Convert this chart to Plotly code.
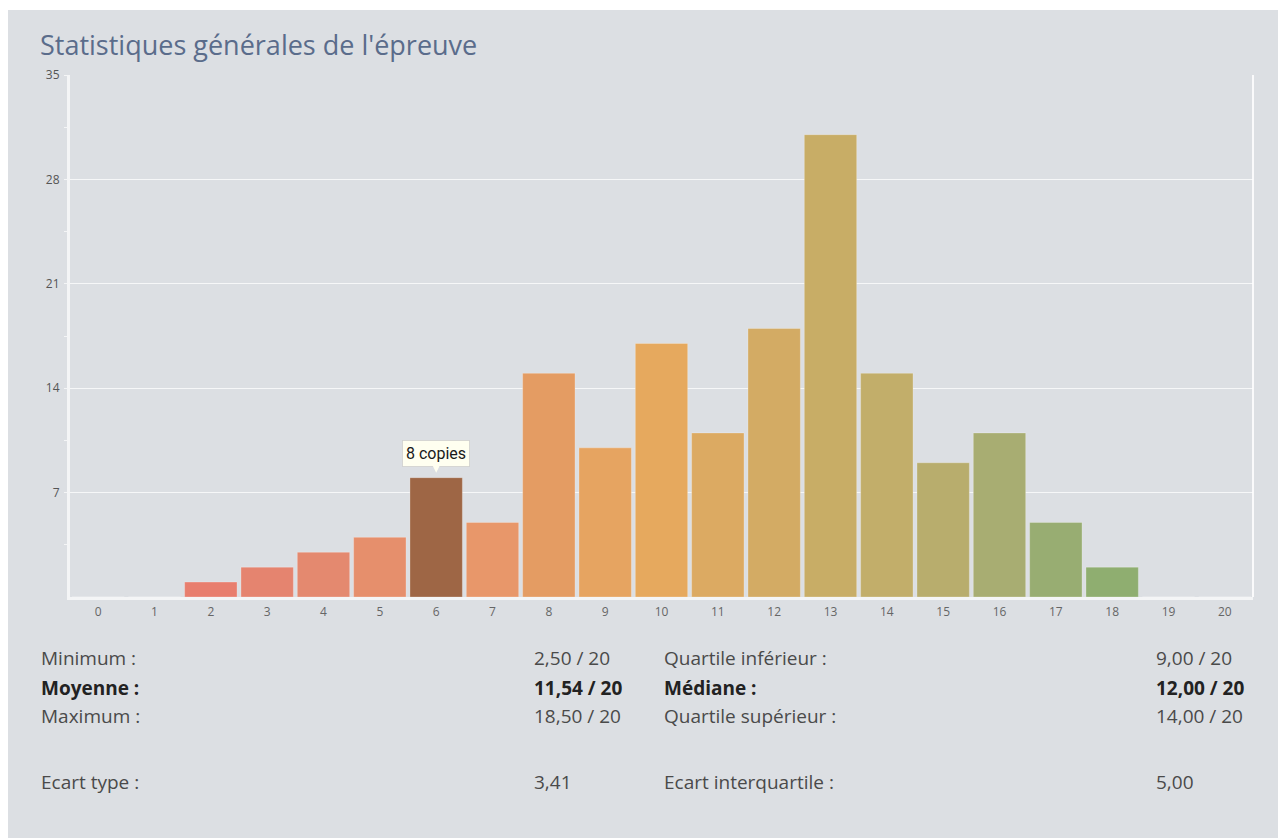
import plotly.graph_objects as go

# ---- data ----
notes = list(range(0, 21))
copies = [0, 0, 1, 2, 3, 4, 8, 5, 15, 10, 17, 11, 18, 31, 15, 9, 11, 5, 2, 0, 0]
y_ticks = [7, 14, 21, 28, 35]
highlight_note = 6

stats_left = [("Minimum :", "2,50 / 20", False),
              ("Moyenne :", "11,54 / 20", True),
              ("Maximum :", "18,50 / 20", False),
              ("Ecart type :", "3,41", False)]
stats_right = [("Quartile inférieur :", "9,00 / 20", False),
               ("Médiane :", "12,00 / 20", True),
               ("Quartile supérieur :", "14,00 / 20", False),
               ("Ecart interquartile :", "5,00", False)]
title = "Statistiques générales de l'épreuve"

# ---- styling ----
OFF = 8  # page body margin
W, H = 1286 - OFF, 838 - OFF
L, R, T, B = 70 - OFF, 1253 - OFF, 75 - OFF, 597 - OFF
BG = "#dcdfe3"
bar_colors = ["#e87b6d", "#e87b6d", "#e87e6e", "#e5846f", "#e4896f", "#e68f6c",
              "#9e6645", "#e8976a", "#e49c63", "#e6a461", "#e6a95e", "#dcaa62",
              "#d3ab64", "#c8ad66", "#c2ae6a", "#b8ad6d", "#a8ad72", "#98ad72",
              "#8fae70", "#8fae70", "#8fae70"]

def px2x(px):
    # px given in reference screenshot coordinates
    return (px - OFF - L) / (R - L)

def py2y(py):
    return (B - (py - OFF)) / (B - T)

fig = go.Figure()
fig.add_trace(go.Bar(
    x=notes, y=copies,
    marker=dict(color=bar_colors, line=dict(color="rgba(255,255,255,0.25)", width=1)),
    hoverinfo="skip",
))

annotations = []
annotations.append(dict(text=title, xref="paper", yref="paper", x=px2x(38), y=py2y(45),
                        xanchor="left", yanchor="middle", showarrow=False,
                        font=dict(family="Open Sans", size=27, color="#5a6c8b")))
rows_y = [658, 688, 716, 782]
for col_items, xl, xv in ((stats_left, 39, 532), (stats_right, 662, 1154)):
    for (lab, val, bold), yy in zip(col_items, rows_y):
        col = "#222222" if bold else "#4a4a4a"
        t1 = f"<b>{lab}</b>" if bold else lab
        t2 = f"<b>{val}</b>" if bold else val
        annotations.append(dict(text=t1, xref="paper", yref="paper", x=px2x(xl), y=py2y(yy),
                                xanchor="left", yanchor="middle", showarrow=False,
                                font=dict(family="Open Sans", size=19, color=col)))
        annotations.append(dict(text=t2, xref="paper", yref="paper", x=px2x(xv), y=py2y(yy),
                                xanchor="left", yanchor="middle", showarrow=False,
                                font=dict(family="Open Sans", size=19, color=col)))

# tooltip
hi_val = copies[notes.index(highlight_note)]
annotations.append(dict(text=f"{hi_val} copies", x=highlight_note, y=hi_val, xref="x", yref="y",
                        showarrow=True, ax=0, ay=-24, arrowhead=2, arrowsize=1,
                        arrowwidth=2, arrowcolor="#fffff0", standoff=5,
                        bgcolor="#fffff0", bordercolor="rgba(190,190,190,0.5)", borderwidth=1,
                        borderpad=3,
                        font=dict(family="Roboto", size=16, color="#1a1a1a")))

shapes = [
    # extra white page margin at the top
    dict(type="rect", xref="paper", yref="paper", x0=px2x(0), x1=px2x(1300),
         y0=py2y(10), y1=py2y(0), fillcolor="white", line=dict(width=0), layer="below"),
    # right frame line
    dict(type="line", xref="paper", yref="paper", x0=1, x1=1, y0=0, y1=1,
         line=dict(color="rgba(255,255,255,0.85)", width=2), layer="below"),
]

fig.update_layout(
    width=W, height=H,
    margin=dict(l=L, r=W - R, t=T, b=H - B, pad=0),
    paper_bgcolor=BG, plot_bgcolor=BG,
    showlegend=False,
    bargap=0.07,
    annotations=annotations,
    shapes=shapes,
    xaxis=dict(range=[-0.5, 20.5], tickmode="array", tickvals=notes,
               ticktext=[str(n) for n in notes],
               showline=True, linecolor="#f4f5f6", linewidth=3,
               showgrid=False, zeroline=False, ticks="", ticklabelstandoff=2,
               tickfont=dict(family="Open Sans", size=12, color="#666666")),
    yaxis=dict(range=[0, 35], tickmode="array", tickvals=y_ticks,
               ticktext=[str(v) for v in y_ticks],
               showline=True, linecolor="#f4f5f6", linewidth=3,
               showgrid=True, gridcolor="rgba(255,255,255,0.75)", gridwidth=1,
               zeroline=False, ticks="outside", ticklen=3, tickcolor="#f4f5f6",
               tickwidth=1, ticklabelstandoff=2,
               minor=dict(tickvals=[3.5, 10.5, 17.5, 24.5, 31.5], ticks="outside",
                          ticklen=3, tickcolor="#f4f5f6", showgrid=False),
               tickfont=dict(family="Open Sans", size=12, color="#555555")),
)

fig.write_html("out.html")
